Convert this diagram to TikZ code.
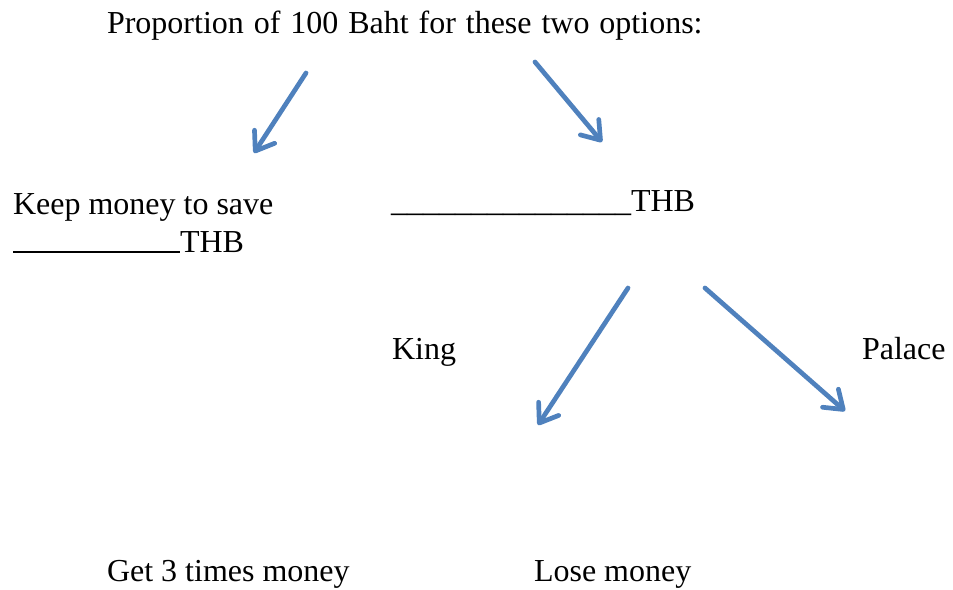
\documentclass[tikz,border=0pt]{standalone}
\usepackage{fontspec}
\setmainfont{Liberation Serif}
\usetikzlibrary{arrows.meta}
\definecolor{arrowblue}{RGB}{79,129,189}
\tikzset{
  lbl/.style={anchor=base west, inner sep=0pt, outer sep=0pt, font=\fontsize{32}{38}\selectfont},
  bluearrow/.style={draw=arrowblue, line width=4.7pt, line cap=round,
    -{Straight Barb[length=17pt, width=24pt, line width=4.7pt, round]}}
}
\begin{document}
\begin{tikzpicture}[x=1pt, y=-1pt]
\useasboundingbox (0,0) rectangle (953,589);
\node[lbl] (title) at (107,33) {\spaceskip=0.31em Proportion of 100 Baht for these two options:};
\node[lbl] (keep) at (13,214) {Keep money to save};
\node[lbl] (keepamt) at (13,252.5) {\rule[-0.5pt]{167pt}{2pt}THB};
\node[lbl] (bet) at (391,211.5) {\_\_\_\_\_\_\_\_\_\_\_\_\_\_\_THB};
\node[lbl] (king) at (392,359) {King};
\node[lbl] (palace) at (862,359) {Palace};
\node[lbl] (get) at (107,581) {Get 3 times money};
\node[lbl] (lose) at (534,581) {Lose money};
\coordinate (a1s) at (306,73);
\coordinate (a1e) at (254,153);
\coordinate (a2s) at (535,62);
\coordinate (a2e) at (602,142);
\coordinate (a3s) at (628,288);
\coordinate (a3e) at (538,425);
\coordinate (a4s) at (705,288);
\coordinate (a4e) at (845,411);
\draw[bluearrow] (a1s) -- (a1e);
\draw[bluearrow] (a2s) -- (a2e);
\draw[bluearrow] (a3s) -- (a3e);
\draw[bluearrow] (a4s) -- (a4e);
\end{tikzpicture}
\end{document}
